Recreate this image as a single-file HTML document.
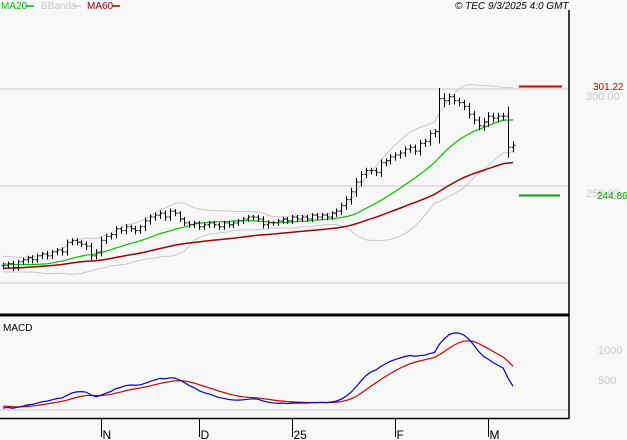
<!DOCTYPE html>
<html><head><meta charset="utf-8"><style>
body{margin:0;background:#f8f8f8;width:627px;height:440px;overflow:hidden;font-family:"Liberation Sans",sans-serif}
svg{display:block}
</style></head><body>
<svg id="c" width="627" height="440" xmlns="http://www.w3.org/2000/svg">
<rect x="0" y="0" width="627" height="440" fill="#f8f8f8"/>
<g id="grid"></g>
<g id="bands"></g>
<g id="mas"></g>
<g id="bars"></g>
<g id="macdg"></g>
<line x1="0" y1="315" x2="569" y2="315" stroke="#000" stroke-width="3"/>
<line x1="569" y1="10" x2="569" y2="419" stroke="#000" stroke-width="1.5"/>
<line x1="0" y1="418.5" x2="569" y2="418.5" stroke="#000" stroke-width="1.5"/>
<g font-size="10">
<text x="1" y="9" fill="#00c000">MA20</text>
<line x1="26" y1="6" x2="34" y2="6" stroke="#00c000" stroke-width="1.5"/>
<text x="41" y="9" fill="#c8c8c8">BBands</text>
<line x1="73" y1="6" x2="81" y2="6" stroke="#c8c8c8" stroke-width="1.5"/>
<text x="87" y="9" fill="#a00000">MA60</text>
<line x1="112" y1="6" x2="120" y2="6" stroke="#a00000" stroke-width="1.5"/>
</g>
<text x="455" y="9" font-size="10" font-style="italic" fill="#000">© TEC 9/3/2025 4:0 GMT</text>
<text x="3" y="331" font-size="10" fill="#000">MACD</text>
<line x1="519" y1="86.5" x2="562" y2="86.5" stroke="#d00000" stroke-width="2"/>
<text x="593" y="90" font-size="10" fill="#d00000">301.22</text>
<line x1="519" y1="195.5" x2="560" y2="195.5" stroke="#00a000" stroke-width="2"/>
<text x="597" y="199" font-size="10" fill="#00a000">244.86</text>
<g id="axes"></g>
</svg>
<script>
const prehist=[200,201,200,202,203,202,204,205,204,206,207,206,208,207,209,210,209,208,210,211,210,212,211,213,212,211,213,212,212,211,207,207,208,207,208,208,209,208,209,209];
const closes=[209,210,208,211,212,213,212,214,215,214,216,217,216,221,222,221,220,219,214,216,222,224,225,228,227,229,228,227,229,232,234,235,236,234,237,236,233,231,230,231,229,230,231,230,229,231,230,231,232,233,234,234,233,230,231,231,232,233,232,234,233,234,233,235,234,235,234,236,237,240,243,247,252,256,258,258,257,262,263,265,266,267,269,270,268,272,273,277,278,295,294,296,294,293,291,287,284,281,283,286,285,286,286,270,271];
const ranges=[4,3,4,3,3,3,4,3,3,4,3,3,4,4,3,3,3,4,5,4,5,4,3,4,3,4,3,4,3,5,4,4,4,4,4,3,3,3,3,3,3,3,3,3,3,3,3,3,3,3,3,3,3,4,4,3,3,3,3,3,3,3,3,3,3,3,3,3,4,4,5,6,6,5,4,4,4,5,4,4,4,4,4,4,4,5,4,5,4,16,8,5,4,4,4,5,5,5,6,6,5,5,5,14,6];
const priceTicks=[300,250,200];
const priceTickLabels=["300.00","250.00",""];
const macdTicks=[1000,500];
const monthIdx=[20,40,59,80,99];
const monthLabels=["N","D","25","F","M"];
const NS="http://www.w3.org/2000/svg";
const X=i=>3+i*4.904;
const Y=p=>89+(300-p)*1.94;
const MY=v=>410-v*0.06;
function mk(t,a,parent){const e=document.createElementNS(NS,t);for(const k in a)e.setAttribute(k,a[k]);parent.appendChild(e);return e;}
const all=prehist.concat(closes),off=prehist.length;
function sma(n,i){let s=0,c=0;for(let k=Math.max(0,i-n+1);k<=i;k++){s+=all[k];c++;}return s/c;}
function sd(n,i,m){let s=0,c=0;for(let k=Math.max(0,i-n+1);k<=i;k++){s+=(all[k]-m)**2;c++;}return Math.sqrt(s/c);}
const grid=document.getElementById('grid');
priceTicks.forEach((p,j)=>{
 const l=mk('line',{x1:0,x2:569,y1:Y(p),y2:Y(p),stroke:'#c8c8c8'},grid);
 
 
 const t=mk('text',{x:586,y:Y(p)+11,'font-size':11,fill:'#c8c8c8'},grid);t.textContent=priceTickLabels[j];
 
 
});
const zl=mk('line',{x1:0,x2:569,y1:MY(0),y2:MY(0),stroke:'#c8c8c8'},grid);


macdTicks.forEach(v=>{const t=mk('text',{x:598,y:MY(v)+4,'font-size':11,fill:'#c8c8c8'},grid);t.textContent=v;
 
 });
let m20=[],m60=[],up=[],lo=[];
let ema60=sma(20,19);
all.forEach((c,g)=>{if(g>=20)ema60+=(c-ema60)*2/61;
 if(g>=off){const i=g-off;const m=sma(20,g);const s=sd(20,g,m);
 m20.push(X(i)+','+Y(m));m60.push(X(i)+','+Y(ema60));up.push(X(i)+','+Y(m+2*s));lo.push(X(i)+','+Y(m-2*s));}});
const bg=document.getElementById('bands');
[[up,'bband-upper'],[lo,'bband-lower']].forEach(([p,n])=>{const e=mk('polyline',{points:p.join(' '),fill:'none',stroke:'#c8c8c8','stroke-width':1},bg);
 
 });
const mg=document.getElementById('mas');
const e60=mk('polyline',{points:m60.join(' '),fill:'none',stroke:'#a00000','stroke-width':1.5},mg);


const e20=mk('polyline',{points:m20.join(' '),fill:'none',stroke:'#00c000','stroke-width':1.2},mg);


const bgp=document.getElementById('bars');
closes.forEach((c,i)=>{const g=i+off;const o=all[g-1];const r=ranges[i];
 const hi=Math.max(o,c)+r*0.35,lw=Math.min(o,c)-r*0.35;const x=Math.round(X(i))+0.5;
 const gg=mk('g',{stroke:'#000','stroke-width':1},bgp);
 
 
 mk('line',{x1:x,x2:x,y1:Y(hi),y2:Y(lw)+1},gg);
 mk('line',{x1:x-2,x2:x,y1:Y(o),y2:Y(o)},gg);
 mk('line',{x1:x,x2:x+2,y1:Y(c),y2:Y(c)},gg);});
let e12=all[0],e26=all[0],sig=0,mp=[],sp=[];
all.forEach((c,g)=>{e12+= (c-e12)*2/13;e26+=(c-e26)*2/27;const m=(e12-e26)*100;sig+=(m-sig)*2/10;
 if(g>=off){const i=g-off;mp.push(X(i)+','+MY(m));sp.push(X(i)+','+MY(sig));}});
const mgg=document.getElementById('macdg');
const s1=mk('polyline',{points:sp.join(' '),fill:'none',stroke:'#d00000','stroke-width':1.2},mgg);


const s2=mk('polyline',{points:mp.join(' '),fill:'none',stroke:'#0000d0','stroke-width':1.2},mgg);


const ax=document.getElementById('axes');
monthIdx.forEach((i,j)=>{const x=Math.round(X(i))+0.5;
 const l=mk('line',{x1:x,x2:x,y1:419,y2:437,stroke:'#000'},ax);
 
 
 const t=mk('text',{x:x+1,y:439,'font-size':12,fill:'#000'},ax);t.textContent=monthLabels[j];
 
 });
</script>
</body></html>
